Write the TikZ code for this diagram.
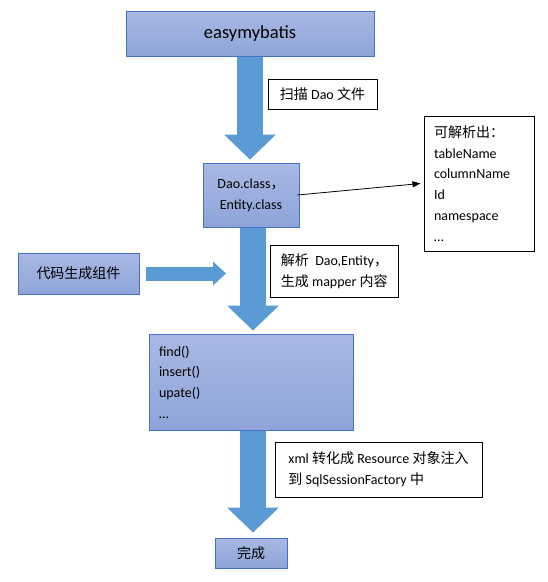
\documentclass[tikz,border=0pt]{standalone}
\usepackage{fontspec}
\setmainfont{Carlito}
\newfontfamily\cjk{Noto Sans CJK SC}
\newcommand\zh[1]{{\cjk #1}}
\usetikzlibrary{arrows.meta}
\definecolor{boxtop}{HTML}{A9B8E3}
\definecolor{boxbot}{HTML}{8EA4D9}
\definecolor{boxline}{HTML}{4472C4}
\definecolor{flow}{HTML}{5B9BD5}
\tikzset{stage/.style={draw=boxline,line width=1pt,top color=boxtop,bottom color=boxbot,inner sep=0pt,font=\fontsize{14}{20.7}\selectfont},
  note/.style={draw=black,line width=1pt,fill=white,inner xsep=10pt,inner ysep=0pt,align=left,font=\fontsize{14}{20.7}\selectfont},
  flowarrow/.style={draw=flow,line width=26pt,-{Triangle[width=52pt,length=25pt,line width=0pt 0 0]}}}

\begin{document}
\begin{tikzpicture}[x=1pt,y=-1pt]
\useasboundingbox (0,0) rectangle (548,582);
\node[stage,minimum width=248pt,minimum height=45pt,font=\fontsize{18.5}{22}\selectfont] (top) at (250,33.5) {easymybatis};
\node[stage,minimum width=96pt,minimum height=64pt,align=center] (dao) at (251,195) {Dao.class\zh{，}\\Entity.class};
\node[note,minimum width=109pt,minimum height=30pt,align=center] (scan) at (322.5,94) {\zh{扫描} Dao \zh{文件}};
\node[note,text width=90pt,minimum height=135pt] (props) at (479,183.5) {\zh{可解析出：}\\tableName\\columnName\\Id\\namespace\\…};
\node[stage,minimum width=121pt,minimum height=41pt] (code) at (78.5,273.5) {\zh{代码生成组件}};
\node[note,minimum width=127pt,minimum height=52pt] (parse) at (334.5,271) {\zh{解析}\ \ Dao,Entity\zh{，}\\\zh{生成} mapper \zh{内容}};
\node[stage,text width=184pt,inner xsep=10pt,minimum height=96pt,align=left] (find) at (251,382) {find()\\insert()\\upate()\\…};
\node[note,minimum width=207pt,minimum height=55pt] (xml) at (378.5,469.5) {xml \zh{转化成} Resource \zh{对象注入}\\\zh{到} SqlSessionFactory \zh{中}};
\node[stage,minimum width=72pt,minimum height=30pt] (done) at (251,553) {\zh{完成}};
\coordinate (codetip) at (226,273.5);

% flow
\draw[flowarrow] (top.south) -- ([xshift=-1pt,yshift=3pt]dao.north);
\draw[flowarrow] ([xshift=2pt]dao.south) -- ([xshift=2pt,yshift=3pt]find.north);
\draw[flowarrow] ([xshift=2pt]find.south) -- ([xshift=2pt,yshift=5pt]done.north);
\draw[flowarrow,line width=14pt,-{Triangle[width=24pt,length=13pt,line width=0pt 0 0]}] ([xshift=6pt]code.east) -- (codetip);
\draw[line width=0.8pt,-{Triangle[length=8pt,width=6pt]}] ([xshift=-2pt]dao.east) -- ([xshift=-3pt]props.west);
\end{tikzpicture}
\end{document}
